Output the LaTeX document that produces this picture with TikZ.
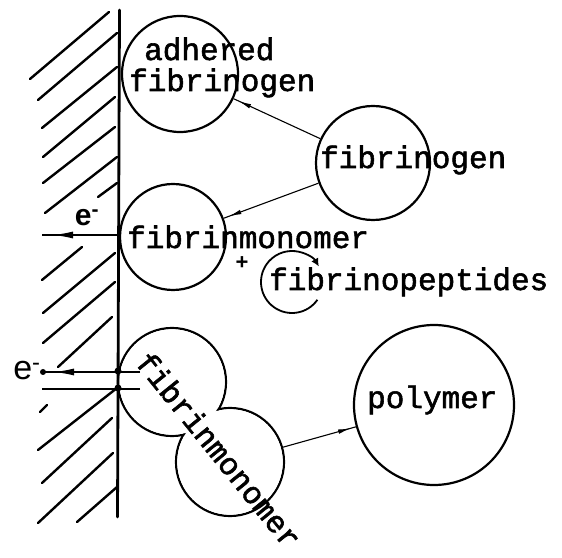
\documentclass[tikz,border=0pt]{standalone}
\usepackage{fontspec}
\newfontfamily\typew{Liberation Mono}[FakeBold=1.8]
\newfontfamily\esans{Liberation Sans}
\usetikzlibrary{arrows.meta,decorations.markings}

\tikzset{
  blob/.style={circle, draw, line width=2.2pt, inner sep=0pt},
  lbl/.style={font=\typew\fontsize{31}{34}\selectfont, inner sep=0pt, anchor=base west},
  elbl/.style={font=\esans\bfseries\fontsize{30}{32}\selectfont, inner sep=0pt},
  hatch/.style={line width=2.4pt, line cap=round},
  wall/.style={line width=2.8pt, line cap=round},
  conn/.style={line width=1.1pt, postaction={decorate},
    decoration={markings, mark=at position -5pt with {\arrow{Latex[length=13pt,width=4.5pt]}}}},
  eline/.style={line width=1.4pt, postaction={decorate},
    decoration={markings, mark=at position -11pt with {\arrow{Latex[length=20pt,width=7pt]}}}},
}

\begin{document}
\begin{tikzpicture}[x=1pt, y=1pt]
  \useasboundingbox (0,0) rectangle (562,557);

  % molecules
  \node[blob, minimum size=116pt] (ad) at (180,483) {};
  \node[blob, minimum size=114pt] (fg) at (373,394) {};
  \node[blob, minimum size=106pt] (fm) at (173,320) {};
  \node[blob, minimum size=160pt] (pol) at (434,152) {};

  % dimer: two merged circles
  \node[blob, minimum size=108pt] (d1) at (172,175) {};
  \node[blob, minimum size=108pt] (d2) at (230,95) {};
  \fill[white] (d1.center) circle (52.7);
  \fill[white] (d2.center) circle (52.7);

  % released peptides
  \coordinate (fp) at (292,275);
  \draw[line width=1.8pt, -{Latex[length=8pt,width=8pt]}] (fp) ++(-35:31) arc[start angle=-35, end angle=-330, radius=31];

  % texts
  \node[lbl] (adt) at (144,497) {adhered};
  \node[lbl] (adt2) at (129,466) {fibrinogen};
  \node[lbl] (fgt) at (320,389) {fibrinogen};
  \node[lbl] (fmt) at (127,309) {fibrinmonomer};
  \node[lbl] (fpt) at (269,267) {fibrinopeptides};
  \node[lbl] (polt) at (367,149) {polymer};
  \node[lbl, anchor=center, rotate=-51] (dmt) at (219,107) {fibrinmonomer};
  \node[font=\esans\bfseries\fontsize{22}{22}\selectfont, inner sep=0pt] (plus) at (242,294) {+};

  % reactions
  \draw[conn] (fg) -- (ad);
  \draw[conn] (fg) -- (fm);
  \draw[conn] (d2) -- (pol);

  % surface
  \coordinate (wtop) at (119.5,547);
  \coordinate (wbot) at (117.5,40);
  \draw[wall] (wtop) -- (wbot);
  \foreach \xa/\ya/\xb/\yb in {30/478/109/545, 38/457/117/524, 42/429/117/490,
      43/400/115/460, 43/374/115/430, 45/344/117/400, 98/360/117/374,
      42/277/82/310, 43/244/115/304, 43/214/115/275, 58/190/112/240,
      40/145/47/152, 38/107/117/169, 42/74/112/139, 38/34/113/104, 77/35/117/70}
    \draw[hatch] (\xa,\ya) -- (\xb,\yb);

  % electron transfer
  \coordinate (w1) at (118,322);
  \coordinate (e1) at (42,322);
  \draw[eline] (w1) -- (e1);
  \node[elbl] (e1t) at (87,339) {e\textsuperscript{-}};

  \coordinate (w2) at (140,185);
  \coordinate (e2) at (43,185);
  \coordinate (w3) at (140,168);
  \coordinate (e3) at (42,168);
  \draw[eline] (w2) -- (e2);
  \draw[line width=1.6pt] (w3) -- (e3);
  \fill (e2) circle (3);
  \fill (118,186) circle (3.5);
  \fill (118,169) circle (3.5);
  \node[elbl, font=\esans\fontsize{34}{36}\selectfont] (e2t) at (27,186) {e\textsuperscript{-}};
\end{tikzpicture}
\end{document}
